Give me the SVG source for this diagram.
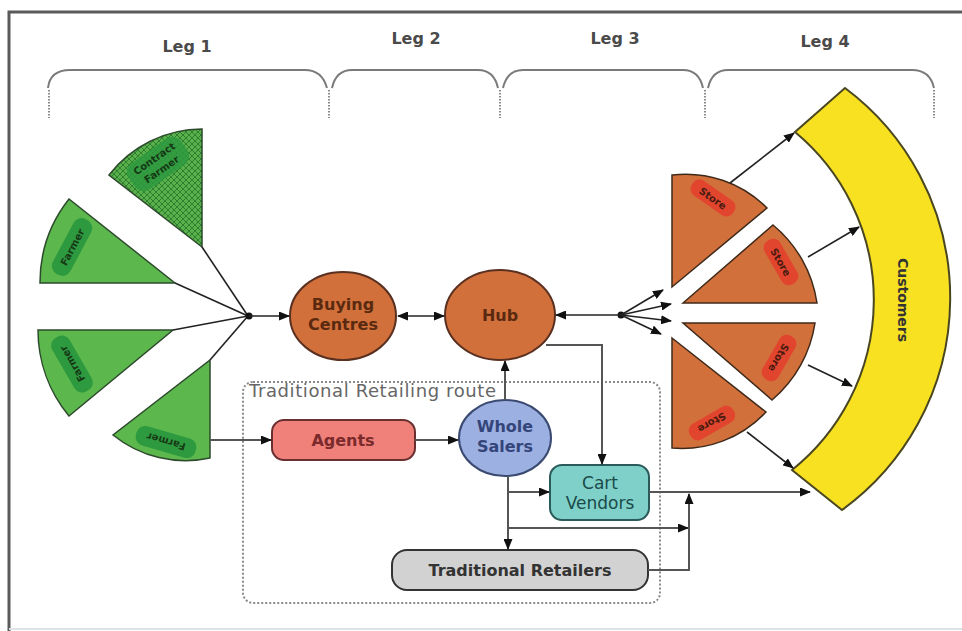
<svg xmlns="http://www.w3.org/2000/svg" width="962" height="631" viewBox="0 0 962 631">
<defs>
<style>
.brace{fill:none;stroke:#7a7a7a;stroke-width:2}
.vdot{stroke:#8a8a8a;stroke-width:2;stroke-dasharray:1.5 1.5}
.leg{font-family:"DejaVu Sans",sans-serif;font-weight:bold;font-size:16px;fill:#4a4a4a;text-anchor:middle}
.gsec{fill:#5cb84c;stroke:#2d4a2d;stroke-width:1.5}
.gpill{fill:#2e9a40}
.gtxt{font-family:"DejaVu Sans",sans-serif;font-weight:bold;font-size:10px;fill:#163a16;text-anchor:middle}
.osec{fill:#d2703c;stroke:#3f2a1a;stroke-width:1.5}
.opill{fill:#e2452e}
.otxt{font-family:"DejaVu Sans",sans-serif;font-weight:bold;font-size:10px;fill:#4a1a10;text-anchor:middle}
.lbl{font-family:"DejaVu Sans",sans-serif;font-weight:bold;font-size:16px;text-anchor:middle}
.ln{fill:none;stroke:#222;stroke-width:1.6}
.lg{fill:none;stroke:#555;stroke-width:2}
</style>
<marker id="ah" markerUnits="userSpaceOnUse" markerWidth="11" markerHeight="9" refX="10" refY="4.5" orient="auto-start-reverse"><path d="M0,0 L11,4.5 L0,9 z" fill="#111"/></marker>
<pattern id="hatch" patternUnits="userSpaceOnUse" width="6" height="6"><rect width="6" height="6" fill="#5ab04a"/><path d="M0,0 L6,6 M6,0 L0,6" stroke="#2f7f30" stroke-width="1"/></pattern>
</defs>
<rect width="962" height="631" fill="#ffffff"/>
<path d="M9,631 V12 H962" fill="none" stroke="#5a5a5a" stroke-width="3"/>
<line x1="9" y1="629" x2="962" y2="629" stroke="#dde3e6" stroke-width="2"/>

<g id="legs">
<path class="brace" d="M48,88 Q50,70 70,70 L305,70 Q322,70 327,88"/>
<path class="brace" d="M332,88 Q336,70 352,70 L478,70 Q494,70 498,88"/>
<path class="brace" d="M503,88 Q507,70 523,70 L683,70 Q699,70 703,88"/>
<path class="brace" d="M708,88 Q712,70 728,70 L912,70 Q930,70 934,88"/>
<line class="vdot" x1="49" y1="90" x2="49" y2="118"/>
<line class="vdot" x1="329" y1="90" x2="329" y2="118"/>
<line class="vdot" x1="500" y1="90" x2="500" y2="118"/>
<line class="vdot" x1="705" y1="90" x2="705" y2="118"/>
<line class="vdot" x1="934" y1="90" x2="934" y2="118"/>
<text class="leg" x="187" y="52">Leg 1</text>
<text class="leg" x="416" y="44">Leg 2</text>
<text class="leg" x="615" y="44">Leg 3</text>
<text class="leg" x="825" y="47">Leg 4</text>
</g>

<g id="route-box">
<rect x="243" y="382" width="417" height="221" rx="10" fill="none" stroke="#8a8a8a" stroke-width="2" stroke-dasharray="2 2"/>
<text x="249" y="397" font-family="DejaVu Sans, sans-serif" font-size="18" fill="#666" textLength="247">Traditional  Retailing route</text>
</g>

<g id="contract-farmer">
<path d="M202,247 L109,175 A118 118 0 0 1 202,129 Z" fill="url(#hatch)" stroke="#2d4a2d" stroke-width="1.5"/>
<g transform="translate(158,164) rotate(-35)">
<rect x="-32" y="-16" width="64" height="32" rx="11" fill="#2e9a40" opacity="0.85"/>
<text class="gtxt" x="0" y="-3">Contract</text>
<text class="gtxt" x="0" y="10">Farmer</text>
</g>
</g>
<g id="farmer-1">
<path class="gsec" d="M175,283 L69,199 A135 135 0 0 0 40,283 Z"/>
<g transform="translate(72,247) rotate(-62)"><rect class="gpill" x="-31" y="-10" width="62" height="20" rx="9"/><text class="gtxt" x="0" y="4">Farmer</text></g>
</g>
<g id="farmer-2">
<path class="gsec" d="M173,330 L38,330 A135 135 0 0 0 69,416 Z"/>
<g transform="translate(72,364) rotate(240)"><rect class="gpill" x="-31" y="-10" width="62" height="20" rx="9"/><text class="gtxt" x="0" y="4">Farmer</text></g>
</g>
<g id="farmer-3">
<path class="gsec" d="M210,360 L210,458 A115 115 0 0 1 113,435 Z"/>
<g transform="translate(166,442) rotate(196)"><rect class="gpill" x="-31" y="-10" width="62" height="20" rx="9"/><text class="gtxt" x="0" y="4">Farmer</text></g>
</g>

<g id="buying-centres">
<ellipse cx="343" cy="316" rx="53" ry="44" fill="#d2703c" stroke="#5a3020" stroke-width="2"/>
<text class="lbl" x="343" y="310" fill="#5a2a10">Buying</text>
<text class="lbl" x="343" y="330" fill="#5a2a10">Centres</text>
</g>
<g id="hub">
<ellipse cx="500" cy="315" rx="55" ry="45" fill="#d2703c" stroke="#5a3020" stroke-width="2"/>
<text class="lbl" x="500" y="321" fill="#5a2a10">Hub</text>
</g>
<g id="agents">
<rect x="272" y="420" width="143" height="40" rx="12" fill="#f0807a" stroke="#6a3030" stroke-width="2"/>
<text class="lbl" x="343" y="446" fill="#7a2a2a">Agents</text>
</g>
<g id="whole-salers">
<ellipse cx="505" cy="438" rx="46" ry="38" fill="#9db0e2" stroke="#3a4a70" stroke-width="2"/>
<text class="lbl" x="505" y="432" fill="#34457a">Whole</text>
<text class="lbl" x="505" y="452" fill="#34457a">Salers</text>
</g>
<g id="cart-vendors">
<rect x="550" y="465" width="99" height="55" rx="12" fill="#7fd0c8" stroke="#2a5a5a" stroke-width="2"/>
<text x="600" y="489" font-family="DejaVu Sans, sans-serif" font-size="17" fill="#1a4a4a" text-anchor="middle">Cart</text>
<text x="600" y="509" font-family="DejaVu Sans, sans-serif" font-size="17" fill="#1a4a4a" text-anchor="middle">Vendors</text>
</g>
<g id="traditional-retailers">
<rect x="392" y="550" width="256" height="40" rx="15" fill="#d2d2d2" stroke="#333" stroke-width="2"/>
<text class="lbl" x="520" y="576" fill="#333">Traditional Retailers</text>
</g>

<g id="store-1">
<path class="osec" d="M672,287 L672,175 A115 115 0 0 1 767,208 Z"/>
<g transform="translate(713,198) rotate(35)"><rect class="opill" x="-25" y="-9" width="50" height="18" rx="8"/><text class="otxt" x="0" y="4">Store</text></g>
</g>
<g id="store-2">
<path class="osec" d="M683,303 L773,225 A125 125 0 0 1 817,303 Z"/>
<g transform="translate(781,262) rotate(60)"><rect class="opill" x="-25" y="-9" width="50" height="18" rx="8"/><text class="otxt" x="0" y="4">Store</text></g>
</g>
<g id="store-3">
<path class="osec" d="M683,323 L815,323 A125 125 0 0 1 772,400 Z"/>
<g transform="translate(779,358) rotate(120)"><rect class="opill" x="-25" y="-9" width="50" height="18" rx="8"/><text class="otxt" x="0" y="4">Store</text></g>
</g>
<g id="store-4">
<path class="osec" d="M672,338 L766,412 A115 115 0 0 1 672,448 Z"/>
<g transform="translate(712,423) rotate(150)"><rect class="opill" x="-25" y="-9" width="50" height="18" rx="8"/><text class="otxt" x="0" y="4">Store</text></g>
</g>

<g id="customers">
<path d="M845,88 A262 262 0 0 1 842,510 L792,470 A218 218 0 0 0 795,132 Z" fill="#f7e120" stroke="#4a4620" stroke-width="2"/>
<text x="903" y="300" transform="rotate(90 903 300)" font-family="DejaVu Sans, sans-serif" font-weight="bold" font-size="14" fill="#333" text-anchor="middle" dominant-baseline="central">Customers</text>
</g>

<g id="connectors">
<line class="ln" x1="248" y1="316" x2="202" y2="247"/>
<line class="ln" x1="248" y1="316" x2="175" y2="283"/>
<line class="ln" x1="248" y1="316" x2="173" y2="330"/>
<line class="ln" x1="248" y1="316" x2="210" y2="360"/>
<circle cx="249" cy="316" r="3.5" fill="#111"/>
<line class="ln" x1="249" y1="316" x2="289" y2="316" marker-end="url(#ah)"/>
<line class="ln" x1="398" y1="316" x2="444" y2="316" marker-start="url(#ah)" marker-end="url(#ah)"/>
<circle cx="621" cy="315" r="3.5" fill="#111"/>
<line class="ln" x1="621" y1="315" x2="556" y2="315" marker-end="url(#ah)"/>
<line class="ln" x1="621" y1="315" x2="663" y2="290" marker-end="url(#ah)"/>
<line class="ln" x1="621" y1="315" x2="671" y2="304" marker-end="url(#ah)"/>
<line class="ln" x1="621" y1="315" x2="671" y2="321" marker-end="url(#ah)"/>
<line class="ln" x1="621" y1="315" x2="661" y2="334" marker-end="url(#ah)"/>
<line class="ln" x1="730" y1="183" x2="794" y2="133" marker-end="url(#ah)"/>
<line class="ln" x1="808" y1="257" x2="859" y2="227" marker-end="url(#ah)"/>
<line class="ln" x1="808" y1="365" x2="852" y2="386" marker-end="url(#ah)"/>
<line class="ln" x1="747" y1="432" x2="793" y2="468" marker-end="url(#ah)"/>
<line class="lg" x1="210" y1="440" x2="271" y2="440" marker-end="url(#ah)"/>
<line class="lg" x1="415" y1="440" x2="458" y2="440" marker-end="url(#ah)"/>
<line class="lg" x1="505" y1="400" x2="505" y2="361" marker-end="url(#ah)"/>
<path class="lg" d="M546,345 L602,345 L602,464" marker-end="url(#ah)"/>
<line class="lg" x1="508" y1="476" x2="508" y2="549" marker-end="url(#ah)"/>
<line class="lg" x1="508" y1="492" x2="549" y2="492" marker-end="url(#ah)"/>
<line class="lg" x1="508" y1="528" x2="688" y2="528" stroke-width="2.8" marker-end="url(#ah)"/>
<path class="lg" d="M648,570 L689,570 L689,494" marker-end="url(#ah)"/>
<line class="lg" x1="649" y1="492" x2="810" y2="492" marker-end="url(#ah)"/>
</g>
</svg>
